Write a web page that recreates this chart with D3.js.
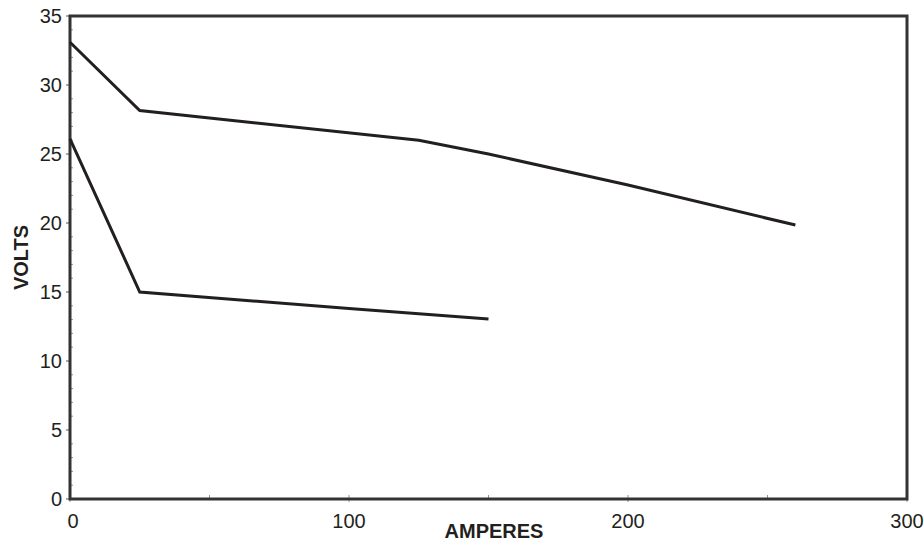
<!DOCTYPE html>
<html>
<head>
<meta charset="utf-8">
<script src="https://cdn.jsdelivr.net/npm/d3@7"></script>
<style>
  body { margin: 0; background: #fff; }
  text { font-family: "Liberation Sans", Arial, sans-serif; fill: #231f20; }
</style>
</head>
<body>
<div id="chart"></div>
<script>
// ---- data ----
const upperAmps  = [0, 25, 125, 150, 200, 260];
const upperVolts = [33.1, 28.15, 26.0, 25.0, 22.75, 19.85];
const lowerAmps  = [0, 25, 100, 150];
const lowerVolts = [26.1, 15.0, 13.8, 13.05];

const xTicks = [0, 100, 200, 300];
const yTicks = [0, 5, 10, 15, 20, 25, 30, 35];
const xLabel = "AMPERES";
const yLabel = "VOLTS";

const width = 924, height = 542;
const margin = {top: 16, right: 17, bottom: 43, left: 70};

const svg = d3.select("#chart").append("svg")
    .attr("width", width)
    .attr("height", height);

const x = d3.scaleLinear().domain([0, 300]).range([margin.left, width - margin.right]);
const y = d3.scaleLinear().domain([0, 35]).range([height - margin.bottom, margin.top]);

const ink = "#231f20";

// minor ticks on y (every 1 volt, inward)
svg.append("g")
    .selectAll("line")
    .data(d3.range(0, 36).filter(v => v % 5 !== 0))
    .join("line")
    .attr("x1", x(0)).attr("x2", x(0) + 3)
    .attr("y1", d => y(d)).attr("y2", d => y(d))
    .attr("stroke", "#777").attr("stroke-width", 0.8);

// major ticks on y (outward)
svg.append("g")
    .selectAll("line")
    .data(yTicks)
    .join("line")
    .attr("x1", x(0) - 4).attr("x2", x(0))
    .attr("y1", d => y(d)).attr("y2", d => y(d))
    .attr("stroke", "#555").attr("stroke-width", 1);

// x ticks every 50 (inward)
svg.append("g")
    .selectAll("line")
    .data(d3.range(0, 301, 50))
    .join("line")
    .attr("x1", d => x(d)).attr("x2", d => x(d))
    .attr("y1", y(0) - 4).attr("y2", d => d % 100 === 0 ? y(0) + 3 : y(0))
    .attr("stroke", "#777").attr("stroke-width", 0.8);

// frame
svg.append("rect")
    .attr("x", x(0)).attr("y", y(35))
    .attr("width", x(300) - x(0)).attr("height", y(0) - y(35))
    .attr("fill", "none")
    .attr("stroke", "#333").attr("stroke-width", 3);

// y tick labels
svg.append("g")
    .selectAll("text")
    .data(yTicks)
    .join("text")
    .attr("x", x(0) - 8)
    .attr("y", d => y(d))
    .attr("dy", "0.36em")
    .attr("text-anchor", "end")
    .style("font-size", "20px")
    .text(d => d);

// x tick labels
svg.append("g")
    .selectAll("text")
    .data(xTicks)
    .join("text")
    .attr("x", d => x(d) + (d === 0 ? 3 : 0))
    .attr("y", 528)
    .attr("text-anchor", "middle")
    .style("font-size", "20px")
    .text(d => d);

// axis titles
svg.append("text")
    .attr("x", 494)
    .attr("y", 538)
    .attr("text-anchor", "middle")
    .style("font-size", "20px")
    .style("font-weight", "bold")
    .text(xLabel);

svg.append("text")
    .attr("transform", `translate(28, ${(y(0) + y(35)) / 2}) rotate(-90)`)
    .attr("text-anchor", "middle")
    .style("font-size", "20px")
    .style("font-weight", "bold")
    .text(yLabel);

// curves
const line = d3.line().x(d => x(d[0])).y(d => y(d[1]));
const series = [
    d3.zip(upperAmps, upperVolts),
    d3.zip(lowerAmps, lowerVolts)
];

svg.append("g")
    .selectAll("path")
    .data(series)
    .join("path")
    .attr("d", line)
    .attr("fill", "none")
    .attr("stroke", ink)
    .attr("stroke-width", 3)
    .attr("stroke-linejoin", "miter");
</script>
</body>
</html>
